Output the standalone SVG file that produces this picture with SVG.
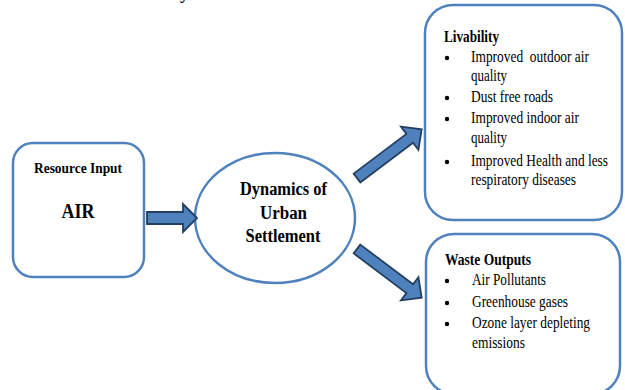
<svg xmlns="http://www.w3.org/2000/svg" width="625" height="390" viewBox="0 0 625 390">
<style>
.box{fill:#fff;stroke:#4f81bd;stroke-width:2.5}
text{font-family:'Liberation Serif','Times New Roman',Times,serif;fill:#000}
.b{font-weight:bold}
.arrow{fill:#4f81bd;stroke:#243f60;stroke-width:1.8;stroke-linejoin:miter}
.dot{fill:#000}
</style>
<defs>
<path id="arr81" d="M0,-5.5 L66,-5.5 L66,-14.5 L81,0 L66,14.5 L66,5.5 L0,5.5 Z"/>
</defs>
<rect width="625" height="390" fill="#fff"/>
<text class="b" x="180" y="-1" font-size="18">y</text>

<g id="resource-input">
<rect class="box" x="13" y="143" width="131" height="134" rx="20"/>
<text class="b" x="78" y="173" font-size="15" text-anchor="middle" textLength="88" lengthAdjust="spacingAndGlyphs">Resource Input</text>
<text class="b" x="78" y="218" font-size="20" text-anchor="middle" textLength="33" lengthAdjust="spacingAndGlyphs">AIR</text>
</g>

<g id="urban-settlement">
<ellipse class="box" cx="275" cy="218" rx="80" ry="65" stroke-width="2.2"/>
<text class="b" x="283.5" y="195" font-size="18" text-anchor="middle" textLength="87" lengthAdjust="spacingAndGlyphs">Dynamics of</text>
<text class="b" x="283.5" y="219" font-size="18" text-anchor="middle" textLength="47" lengthAdjust="spacingAndGlyphs">Urban</text>
<text class="b" x="283" y="242" font-size="18" text-anchor="middle" textLength="75" lengthAdjust="spacingAndGlyphs">Settlement</text>
</g>

<g id="livability">
<rect class="box" x="425" y="5" width="197" height="215" rx="28"/>
<text class="b" x="444" y="42" font-size="16" textLength="55" lengthAdjust="spacingAndGlyphs">Livability</text>
<circle class="dot" cx="447" cy="58" r="2.2"/>
<text x="471" y="62" font-size="17" textLength="118" lengthAdjust="spacingAndGlyphs" xml:space="preserve">Improved  outdoor air</text>
<text x="471" y="81" font-size="17" textLength="36" lengthAdjust="spacingAndGlyphs">quality</text>
<circle class="dot" cx="447" cy="98" r="2.2"/>
<text x="471" y="102" font-size="17" textLength="82" lengthAdjust="spacingAndGlyphs">Dust free roads</text>
<circle class="dot" cx="447" cy="119" r="2.2"/>
<text x="471" y="123" font-size="17" textLength="108" lengthAdjust="spacingAndGlyphs">Improved indoor air</text>
<text x="471" y="143" font-size="17" textLength="36" lengthAdjust="spacingAndGlyphs">quality</text>
<circle class="dot" cx="447" cy="162" r="2.2"/>
<text x="471" y="166" font-size="17" textLength="137" lengthAdjust="spacingAndGlyphs">Improved Health and less</text>
<text x="471" y="185" font-size="17" textLength="105" lengthAdjust="spacingAndGlyphs">respiratory diseases</text>
</g>

<g id="waste-outputs">
<rect class="box" x="426" y="234" width="194" height="160" rx="28"/>
<text class="b" x="445" y="265" font-size="16" textLength="86" lengthAdjust="spacingAndGlyphs">Waste Outputs</text>
<circle class="dot" cx="447" cy="281" r="2.2"/>
<text x="472" y="285" font-size="17" textLength="74" lengthAdjust="spacingAndGlyphs">Air Pollutants</text>
<circle class="dot" cx="447" cy="303" r="2.2"/>
<text x="472" y="307" font-size="17" textLength="96" lengthAdjust="spacingAndGlyphs">Greenhouse gases</text>
<circle class="dot" cx="447" cy="324" r="2.2"/>
<text x="472" y="328" font-size="17" textLength="118" lengthAdjust="spacingAndGlyphs">Ozone layer depleting</text>
<text x="472" y="348" font-size="17" textLength="53" lengthAdjust="spacingAndGlyphs">emissions</text>
</g>

<g id="connectors">
<path class="arrow" d="M147,212 L183,212 L183,204 L197,218 L183,232 L183,224 L147,224 Z"/>
<use href="#arr81" class="arrow" transform="translate(357,178) rotate(-37)"/>
<use href="#arr81" class="arrow" transform="translate(357,249) rotate(37)"/>
</g>
</svg>
